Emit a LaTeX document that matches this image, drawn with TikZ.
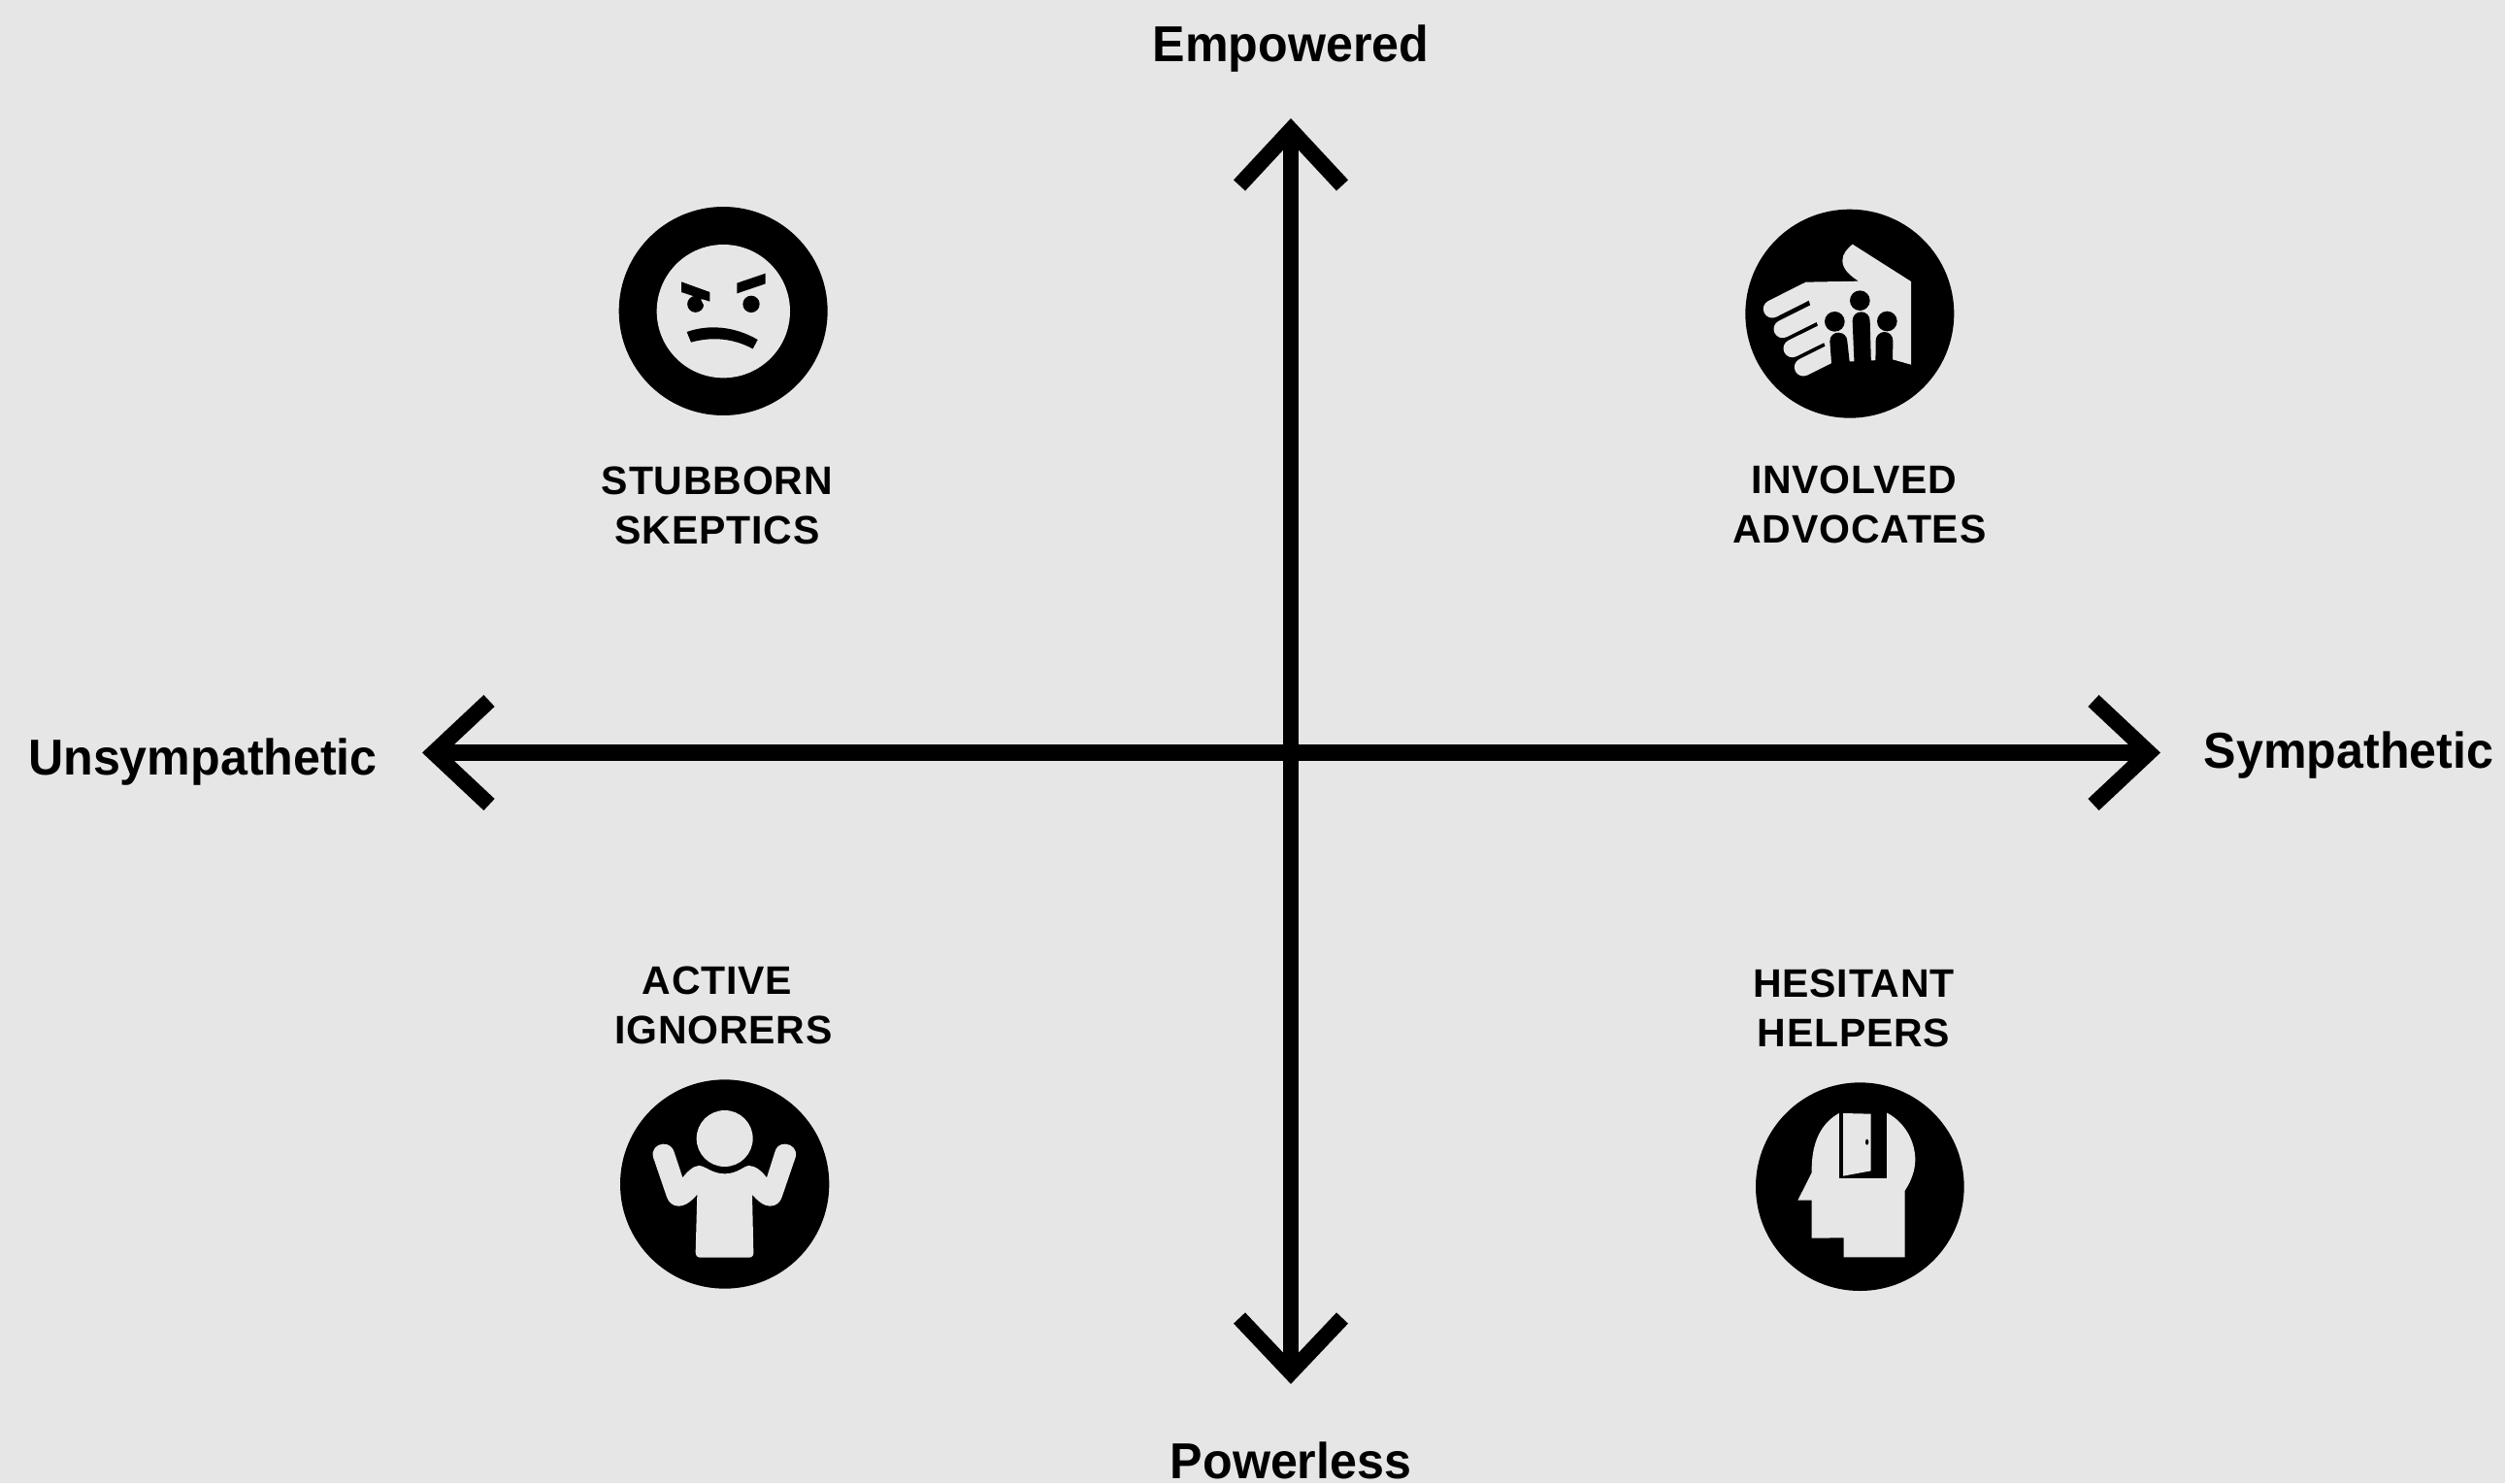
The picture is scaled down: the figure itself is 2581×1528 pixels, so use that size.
\documentclass[tikz,border=0pt]{standalone}
\usepackage{fontspec}
\setmainfont{Liberation Sans}[BoldFont={Liberation Sans Bold},BoldFeatures={FakeStretch=0.965}]
\newfontfamily\capsfont{Liberation Sans Bold}[LetterSpace=2]
\definecolor{bgc}{HTML}{E6E6E6}
\tikzset{
  axisline/.style={draw=black,line width=8.2pt,line join=miter,miter limit=10},
  axislabel/.style={font=\bfseries\fontsize{26}{30}\selectfont,text=black,inner sep=0pt},
  quadlabel/.style={font=\capsfont\fontsize{20.5}{25.7}\selectfont,text=black,align=center,inner sep=0pt},
  disc/.style={fill=black},
  pale/.style={fill=bgc},
  fingerstroke/.style={draw=bgc,line width=9.2pt,line cap=round}
}
\begin{document}
\begin{tikzpicture}[x=0.5pt,y=-0.5pt]
\useasboundingbox (0,0) rectangle (2581,1528);
\fill[bgc] (0,0) rectangle (2581,1528);
% axes
\coordinate (top) at (1330,134);
\coordinate (bottom) at (1330,1414);
\coordinate (left) at (447,775.5);
\coordinate (right) at (2214,775.5);
\draw[axisline] (bottom) -- (top);
\draw[axisline] (left) -- (right);
\draw[axisline] (1277,191) -- (top) -- (1383,191);
\draw[axisline] (1277,1358) -- (bottom) -- (1383,1358);
\draw[axisline] (504,722) -- (left) -- (504,829);
\draw[axisline] (2157,722) -- (right) -- (2157,829);
% axis labels
\node[axislabel] (empowered) at (1330,50) {Empowered};
\node[axislabel] (powerless) at (1330,1505) {Powerless};
\node[axislabel] (unsym) at (209,785) {Unsympathetic};
\node[axislabel] (sym) at (2420,778) {Sympathetic};
% quadrant labels
\node[quadlabel] (skeptics) at (739,521) {STUBBORN\\SKEPTICS};
\node[quadlabel] (advocates) at (1916,520) {INVOLVED\hspace*{5.8pt}\\ADVOCATES};
\node[quadlabel] (ignorers) at (745.5,1036) {ACTIVE\hspace*{6.6pt}\\IGNORERS};
\node[quadlabel] (helpers) at (1910,1039) {HESITANT\\HELPERS};
% face icon
\begin{scope}[shift={(600,180)},scale=1/3]
\fill[disc] (435.5,421.5) circle[radius=322.5];
\fill[pale] (436,422) circle[radius=206];
\fill[disc] (350,400) circle[radius=25.5];
\fill[pale] (366,385) -- (396,395) -- (396,410) -- (375,402) -- cycle;
\fill[disc] (306,331) -- (394,363) -- (394,392) -- (306,363) -- cycle;
\fill[disc] (478,335) -- (566,305) -- (566,337) -- (478,367) -- cycle;
\fill[disc] (522,400) circle[radius=26];
\fill[disc] (323,486) .. controls (390,462) and (470,468) .. (542,510) -- (527,538) .. controls (465,505) and (400,500) .. (336,518) -- cycle;
\end{scope}
% hand icon
\begin{scope}[shift={(1770,190)},scale=1/3]
\fill[disc] (407.5,399.5) circle[radius=322.5];
\draw[fingerstroke] (168,385) -- (275,331);
\draw[fingerstroke] (200,447) -- (310,392);
\draw[fingerstroke] (230,507) -- (335,455);
\draw[fingerstroke] (264,565) -- (370,512);
\fill[pale] (268,302) -- (435,299) .. controls (405,280) and (385,260) .. (385,235) .. controls (385,215) and (400,198) .. (416,185) -- (597,300) -- (597,557) -- (540,541) -- (352,550) -- (328,490) -- (305,425) -- (283,365) -- cycle;
\fill[disc] (361,424) circle[radius=31];
\fill[disc] (439,359) circle[radius=31];
\fill[disc] (523,423) circle[radius=31];
\fill[disc] (352,565) -- (346,485) .. controls (346,468) and (358,458) .. (373,458) .. controls (388,458) and (400,470) .. (400,485) -- (409,565) -- cycle;
\fill[disc] (422,565) -- (416,422) .. controls (416,405) and (428,394) .. (443,394) .. controls (458,394) and (470,405) .. (470,422) -- (474,565) -- cycle;
\fill[disc] (487,565) -- (488,483) .. controls (488,468) and (500,456) .. (515,456) .. controls (530,456) and (541,468) .. (541,483) -- (540,565) -- cycle;
\end{scope}
% shrug icon
\begin{scope}[shift={(620,1090)},scale=1/3]
\fill[disc] (380,390) circle[radius=323];
\fill[pale] (380,249) circle[radius=87];
\fill[pale] (295,422) -- (290,600) .. controls (290,612) and (296,617) .. (306,617) -- (455,617) .. controls (465,617) and (470,610) .. (469,600) -- (465,422) .. controls (480,440) and (500,458) .. (520,458) .. controls (540,458) and (552,445) .. (557,430) -- (599,307) .. controls (606,285) and (588,266) .. (567,266) .. controls (550,266) and (540,275) .. (536,288) -- (510,370) .. controls (495,350) and (475,333) .. (455,333) .. controls (440,333) and (420,358) .. (380,358) .. controls (340,358) and (320,333) .. (300,333) .. controls (285,333) and (265,350) .. (250,370) -- (223,288) .. controls (218,275) and (208,266) .. (190,266) .. controls (170,266) and (152,285) .. (159,307) -- (201,430) .. controls (207,447) and (220,458) .. (237,458) .. controls (260,458) and (280,440) .. (295,422) -- cycle;
\end{scope}
% head icon
\begin{scope}[shift={(1780,1100)},scale=1/3]
\fill[disc] (409,368) circle[radius=322];
\fill[pale] (217,410) -- (260,410) -- (260,527) -- (359,526) -- (359,586) -- (548,586) -- (548,380) .. controls (565,355) and (580,320) .. (580,285) .. controls (580,230) and (550,170) .. (493,140) -- (346,140) .. controls (290,170) and (258,230) .. (260,325) -- cycle;
\fill[disc] (346,135) rectangle (493,343);
\fill[pale] (357,141) -- (443,143) -- (443,319) -- (357,335) -- cycle;
\fill[disc] (431,230) ellipse[x radius=5,y radius=9];
\end{scope}
\end{tikzpicture}
\end{document}
